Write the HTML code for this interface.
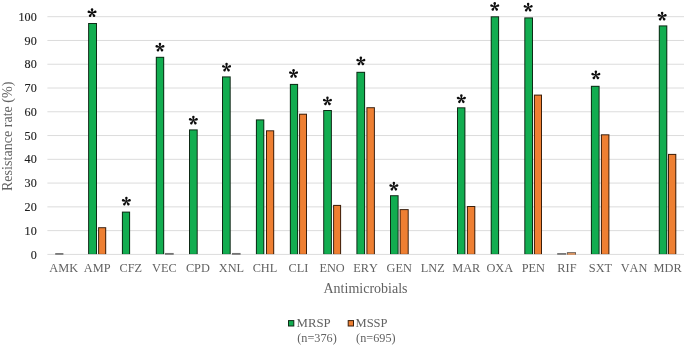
<!DOCTYPE html>
<html><head><meta charset="utf-8"><title>Resistance rate chart</title>
<style>
html,body{margin:0;padding:0;background:#fff;}
body{width:685px;height:349px;overflow:hidden;font-family:"Liberation Serif",serif;}
svg{display:block;will-change:transform;}
text{font-family:"Liberation Serif",serif;font-kerning:none;}
</style></head><body>
<svg width="685" height="349" viewBox="0 0 685 349">
<rect x="0" y="0" width="685" height="349" fill="#ffffff"/>

<g stroke="#dcdcdc" stroke-width="1" shape-rendering="auto">
<line x1="47.40" y1="254.40" x2="684" y2="254.40"/>
<line x1="47.40" y1="230.63" x2="684" y2="230.63"/>
<line x1="47.40" y1="206.86" x2="684" y2="206.86"/>
<line x1="47.40" y1="183.09" x2="684" y2="183.09"/>
<line x1="47.40" y1="159.32" x2="684" y2="159.32"/>
<line x1="47.40" y1="135.55" x2="684" y2="135.55"/>
<line x1="47.40" y1="111.78" x2="684" y2="111.78"/>
<line x1="47.40" y1="88.01" x2="684" y2="88.01"/>
<line x1="47.40" y1="64.24" x2="684" y2="64.24"/>
<line x1="47.40" y1="40.47" x2="684" y2="40.47"/>
<line x1="47.40" y1="16.70" x2="684" y2="16.70"/>
</g>
<text transform="translate(36.70,258.50) scale(0.92,1)" font-size="13.2" fill="#1e1e1e" stroke="#1e1e1e" stroke-width="0.15" text-anchor="end">0</text>
<text transform="translate(36.70,234.73) scale(0.92,1)" font-size="13.2" fill="#1e1e1e" stroke="#1e1e1e" stroke-width="0.15" text-anchor="end">10</text>
<text transform="translate(36.70,210.96) scale(0.92,1)" font-size="13.2" fill="#1e1e1e" stroke="#1e1e1e" stroke-width="0.15" text-anchor="end">20</text>
<text transform="translate(36.70,187.19) scale(0.92,1)" font-size="13.2" fill="#1e1e1e" stroke="#1e1e1e" stroke-width="0.15" text-anchor="end">30</text>
<text transform="translate(36.70,163.42) scale(0.92,1)" font-size="13.2" fill="#1e1e1e" stroke="#1e1e1e" stroke-width="0.15" text-anchor="end">40</text>
<text transform="translate(36.70,139.65) scale(0.92,1)" font-size="13.2" fill="#1e1e1e" stroke="#1e1e1e" stroke-width="0.15" text-anchor="end">50</text>
<text transform="translate(36.70,115.88) scale(0.92,1)" font-size="13.2" fill="#1e1e1e" stroke="#1e1e1e" stroke-width="0.15" text-anchor="end">60</text>
<text transform="translate(36.70,92.11) scale(0.92,1)" font-size="13.2" fill="#1e1e1e" stroke="#1e1e1e" stroke-width="0.15" text-anchor="end">70</text>
<text transform="translate(36.70,68.34) scale(0.92,1)" font-size="13.2" fill="#1e1e1e" stroke="#1e1e1e" stroke-width="0.15" text-anchor="end">80</text>
<text transform="translate(36.70,44.57) scale(0.92,1)" font-size="13.2" fill="#1e1e1e" stroke="#1e1e1e" stroke-width="0.15" text-anchor="end">90</text>
<text transform="translate(36.70,20.80) scale(0.92,1)" font-size="13.2" fill="#1e1e1e" stroke="#1e1e1e" stroke-width="0.15" text-anchor="end">100</text>
<rect x="88.10" y="23.00" width="8.90" height="231.10" fill="#0e2a16"/><rect x="89.10" y="24.00" width="6.90" height="229.90" fill="#12ad50"/>
<rect x="121.90" y="211.60" width="8.20" height="42.50" fill="#0e2a16"/><rect x="122.90" y="212.60" width="6.20" height="41.30" fill="#12ad50"/>
<rect x="155.80" y="56.80" width="8.40" height="197.30" fill="#0e2a16"/><rect x="156.80" y="57.80" width="6.40" height="196.10" fill="#12ad50"/>
<rect x="189.00" y="129.40" width="8.70" height="124.70" fill="#0e2a16"/><rect x="190.00" y="130.40" width="6.70" height="123.50" fill="#12ad50"/>
<rect x="222.00" y="76.40" width="8.70" height="177.70" fill="#0e2a16"/><rect x="223.00" y="77.40" width="6.70" height="176.50" fill="#12ad50"/>
<rect x="255.90" y="119.40" width="8.40" height="134.70" fill="#0e2a16"/><rect x="256.90" y="120.40" width="6.40" height="133.50" fill="#12ad50"/>
<rect x="289.85" y="83.90" width="8.25" height="170.20" fill="#0e2a16"/><rect x="290.85" y="84.90" width="6.25" height="169.00" fill="#12ad50"/>
<rect x="323.20" y="110.00" width="8.70" height="144.10" fill="#0e2a16"/><rect x="324.20" y="111.00" width="6.70" height="142.90" fill="#12ad50"/>
<rect x="356.40" y="71.80" width="8.70" height="182.30" fill="#0e2a16"/><rect x="357.40" y="72.80" width="6.70" height="181.10" fill="#12ad50"/>
<rect x="390.00" y="195.20" width="8.60" height="58.90" fill="#0e2a16"/><rect x="391.00" y="196.20" width="6.60" height="57.70" fill="#12ad50"/>
<rect x="457.00" y="107.30" width="8.40" height="146.80" fill="#0e2a16"/><rect x="458.00" y="108.30" width="6.40" height="145.60" fill="#12ad50"/>
<rect x="490.70" y="16.30" width="8.40" height="237.80" fill="#0e2a16"/><rect x="491.70" y="17.30" width="6.40" height="236.60" fill="#12ad50"/>
<rect x="524.30" y="17.40" width="8.70" height="236.70" fill="#0e2a16"/><rect x="525.30" y="18.40" width="6.70" height="235.50" fill="#12ad50"/>
<rect x="590.90" y="85.80" width="8.70" height="168.30" fill="#0e2a16"/><rect x="591.90" y="86.80" width="6.70" height="167.10" fill="#12ad50"/>
<rect x="658.80" y="25.40" width="8.50" height="228.70" fill="#0e2a16"/><rect x="659.80" y="26.40" width="6.50" height="227.50" fill="#12ad50"/>
<rect x="98.10" y="227.20" width="8.10" height="26.90" fill="#3a1f0c"/><rect x="99.10" y="228.20" width="6.10" height="25.70" fill="#ee7f32"/>
<rect x="266.00" y="130.30" width="8.20" height="123.80" fill="#3a1f0c"/><rect x="267.00" y="131.30" width="6.20" height="122.60" fill="#ee7f32"/>
<rect x="299.05" y="113.70" width="7.95" height="140.40" fill="#3a1f0c"/><rect x="300.05" y="114.70" width="5.95" height="139.20" fill="#ee7f32"/>
<rect x="333.10" y="204.90" width="8.00" height="49.20" fill="#3a1f0c"/><rect x="334.10" y="205.90" width="6.00" height="48.00" fill="#ee7f32"/>
<rect x="366.40" y="107.20" width="8.50" height="146.90" fill="#3a1f0c"/><rect x="367.40" y="108.20" width="6.50" height="145.70" fill="#ee7f32"/>
<rect x="399.60" y="209.10" width="9.10" height="45.00" fill="#3a1f0c"/><rect x="400.60" y="210.10" width="7.10" height="43.80" fill="#ee7f32"/>
<rect x="466.90" y="206.00" width="8.40" height="48.10" fill="#3a1f0c"/><rect x="467.90" y="207.00" width="6.40" height="46.90" fill="#ee7f32"/>
<rect x="533.90" y="94.60" width="8.10" height="159.50" fill="#3a1f0c"/><rect x="534.90" y="95.60" width="6.10" height="158.30" fill="#ee7f32"/>
<rect x="600.90" y="134.30" width="8.50" height="119.80" fill="#3a1f0c"/><rect x="601.90" y="135.30" width="6.50" height="118.60" fill="#ee7f32"/>
<rect x="668.00" y="153.90" width="8.30" height="100.20" fill="#3a1f0c"/><rect x="669.00" y="154.90" width="6.30" height="99.00" fill="#ee7f32"/>
<rect x="55.20" y="253.05" width="8.20" height="1.75" fill="#747474"/>
<rect x="165.00" y="252.95" width="8.70" height="1.85" fill="#747474"/>
<rect x="232.00" y="252.95" width="8.60" height="1.85" fill="#747474"/>
<rect x="557.20" y="253.05" width="9.00" height="1.75" fill="#747474"/>
<rect x="566.9" y="252.2" width="9.1" height="2.5" fill="#63564c"/><rect x="567.7" y="253.2" width="7.5" height="1.5" fill="#f2a268"/>
<text transform="translate(63.67,272.40) scale(0.935,1)" font-size="13.2" fill="#626262" stroke="#626262" stroke-width="0" text-anchor="middle">AMK</text>
<text transform="translate(97.22,272.40) scale(0.935,1)" font-size="13.2" fill="#626262" stroke="#626262" stroke-width="0" text-anchor="middle">AMP</text>
<text transform="translate(130.78,272.40) scale(0.935,1)" font-size="13.2" fill="#626262" stroke="#626262" stroke-width="0" text-anchor="middle">CFZ</text>
<text transform="translate(164.32,272.40) scale(0.935,1)" font-size="13.2" fill="#626262" stroke="#626262" stroke-width="0" text-anchor="middle">VEC</text>
<text transform="translate(197.88,272.40) scale(0.935,1)" font-size="13.2" fill="#626262" stroke="#626262" stroke-width="0" text-anchor="middle">CPD</text>
<text transform="translate(231.42,272.40) scale(0.935,1)" font-size="13.2" fill="#626262" stroke="#626262" stroke-width="0" text-anchor="middle">XNL</text>
<text transform="translate(264.97,272.40) scale(0.935,1)" font-size="13.2" fill="#626262" stroke="#626262" stroke-width="0" text-anchor="middle">CHL</text>
<text transform="translate(298.52,272.40) scale(0.935,1)" font-size="13.2" fill="#626262" stroke="#626262" stroke-width="0" text-anchor="middle">CLI</text>
<text transform="translate(332.07,272.40) scale(0.935,1)" font-size="13.2" fill="#626262" stroke="#626262" stroke-width="0" text-anchor="middle">ENO</text>
<text transform="translate(365.62,272.40) scale(0.935,1)" font-size="13.2" fill="#626262" stroke="#626262" stroke-width="0" text-anchor="middle">ERY</text>
<text transform="translate(399.17,272.40) scale(0.935,1)" font-size="13.2" fill="#626262" stroke="#626262" stroke-width="0" text-anchor="middle">GEN</text>
<text transform="translate(432.72,272.40) scale(0.935,1)" font-size="13.2" fill="#626262" stroke="#626262" stroke-width="0" text-anchor="middle">LNZ</text>
<text transform="translate(466.27,272.40) scale(0.935,1)" font-size="13.2" fill="#626262" stroke="#626262" stroke-width="0" text-anchor="middle">MAR</text>
<text transform="translate(499.82,272.40) scale(0.935,1)" font-size="13.2" fill="#626262" stroke="#626262" stroke-width="0" text-anchor="middle">OXA</text>
<text transform="translate(533.38,272.40) scale(0.935,1)" font-size="13.2" fill="#626262" stroke="#626262" stroke-width="0" text-anchor="middle">PEN</text>
<text transform="translate(566.92,272.40) scale(0.935,1)" font-size="13.2" fill="#626262" stroke="#626262" stroke-width="0" text-anchor="middle">RIF</text>
<text transform="translate(600.47,272.40) scale(0.935,1)" font-size="13.2" fill="#626262" stroke="#626262" stroke-width="0" text-anchor="middle">SXT</text>
<text transform="translate(634.02,272.40) scale(0.935,1)" font-size="13.2" fill="#626262" stroke="#626262" stroke-width="0" text-anchor="middle">VAN</text>
<text transform="translate(667.57,272.40) scale(0.935,1)" font-size="13.2" fill="#626262" stroke="#626262" stroke-width="0" text-anchor="middle">MDR</text>
<text transform="translate(365.50,293.00) scale(0.98,1)" font-size="14.3" fill="#626262" stroke="#626262" stroke-width="0" text-anchor="middle">Antimicrobials</text>
<text transform="translate(11.60,136.30) rotate(-90) scale(0.985,1)" font-size="14.3" fill="#626262" stroke="#626262" stroke-width="0" text-anchor="middle">Resistance rate (%)</text>
<rect x="288.5" y="320.6" width="5.3" height="5.4" fill="#12ad50" stroke="#0e2a16" stroke-width="1"/>
<rect x="348.2" y="320.6" width="5.3" height="5.4" fill="#ee7f32" stroke="#3a1f0c" stroke-width="1"/>
<text transform="translate(296.60,326.90) scale(0.985,1)" font-size="13" fill="#626262" stroke="#626262" stroke-width="0" text-anchor="start">MRSP</text>
<text transform="translate(297.20,341.70) scale(0.945,1)" font-size="13" fill="#626262" stroke="#626262" stroke-width="0" text-anchor="start">(n=376)</text>
<text transform="translate(355.50,326.90) scale(0.965,1)" font-size="13" fill="#626262" stroke="#626262" stroke-width="0" text-anchor="start">MSSP</text>
<text transform="translate(356.10,341.70) scale(0.94,1)" font-size="13" fill="#626262" stroke="#626262" stroke-width="0" text-anchor="start">(n=695)</text>
<g fill="#0c0c0c">
<path transform="translate(92.05,12.85) rotate(-90)" d="M0,-0.3 L3.45,-1.25 A1.25 1.25 0 0 1 3.45,1.25 L0,0.3 Z"/><path transform="translate(92.05,12.85) rotate(-18)" d="M0,-0.3 L3.45,-1.25 A1.25 1.25 0 0 1 3.45,1.25 L0,0.3 Z"/><path transform="translate(92.05,12.85) rotate(54)" d="M0,-0.3 L3.45,-1.25 A1.25 1.25 0 0 1 3.45,1.25 L0,0.3 Z"/><path transform="translate(92.05,12.85) rotate(126)" d="M0,-0.3 L3.45,-1.25 A1.25 1.25 0 0 1 3.45,1.25 L0,0.3 Z"/><path transform="translate(92.05,12.85) rotate(198)" d="M0,-0.3 L3.45,-1.25 A1.25 1.25 0 0 1 3.45,1.25 L0,0.3 Z"/><circle cx="92.05" cy="12.85" r="0.7"/>
<path transform="translate(126.35,201.35) rotate(-90)" d="M0,-0.3 L3.45,-1.25 A1.25 1.25 0 0 1 3.45,1.25 L0,0.3 Z"/><path transform="translate(126.35,201.35) rotate(-18)" d="M0,-0.3 L3.45,-1.25 A1.25 1.25 0 0 1 3.45,1.25 L0,0.3 Z"/><path transform="translate(126.35,201.35) rotate(54)" d="M0,-0.3 L3.45,-1.25 A1.25 1.25 0 0 1 3.45,1.25 L0,0.3 Z"/><path transform="translate(126.35,201.35) rotate(126)" d="M0,-0.3 L3.45,-1.25 A1.25 1.25 0 0 1 3.45,1.25 L0,0.3 Z"/><path transform="translate(126.35,201.35) rotate(198)" d="M0,-0.3 L3.45,-1.25 A1.25 1.25 0 0 1 3.45,1.25 L0,0.3 Z"/><circle cx="126.35" cy="201.35" r="0.7"/>
<path transform="translate(159.95,47.35) rotate(-90)" d="M0,-0.3 L3.45,-1.25 A1.25 1.25 0 0 1 3.45,1.25 L0,0.3 Z"/><path transform="translate(159.95,47.35) rotate(-18)" d="M0,-0.3 L3.45,-1.25 A1.25 1.25 0 0 1 3.45,1.25 L0,0.3 Z"/><path transform="translate(159.95,47.35) rotate(54)" d="M0,-0.3 L3.45,-1.25 A1.25 1.25 0 0 1 3.45,1.25 L0,0.3 Z"/><path transform="translate(159.95,47.35) rotate(126)" d="M0,-0.3 L3.45,-1.25 A1.25 1.25 0 0 1 3.45,1.25 L0,0.3 Z"/><path transform="translate(159.95,47.35) rotate(198)" d="M0,-0.3 L3.45,-1.25 A1.25 1.25 0 0 1 3.45,1.25 L0,0.3 Z"/><circle cx="159.95" cy="47.35" r="0.7"/>
<path transform="translate(193.35,120.35) rotate(-90)" d="M0,-0.3 L3.45,-1.25 A1.25 1.25 0 0 1 3.45,1.25 L0,0.3 Z"/><path transform="translate(193.35,120.35) rotate(-18)" d="M0,-0.3 L3.45,-1.25 A1.25 1.25 0 0 1 3.45,1.25 L0,0.3 Z"/><path transform="translate(193.35,120.35) rotate(54)" d="M0,-0.3 L3.45,-1.25 A1.25 1.25 0 0 1 3.45,1.25 L0,0.3 Z"/><path transform="translate(193.35,120.35) rotate(126)" d="M0,-0.3 L3.45,-1.25 A1.25 1.25 0 0 1 3.45,1.25 L0,0.3 Z"/><path transform="translate(193.35,120.35) rotate(198)" d="M0,-0.3 L3.45,-1.25 A1.25 1.25 0 0 1 3.45,1.25 L0,0.3 Z"/><circle cx="193.35" cy="120.35" r="0.7"/>
<path transform="translate(226.55,67.45) rotate(-90)" d="M0,-0.3 L3.45,-1.25 A1.25 1.25 0 0 1 3.45,1.25 L0,0.3 Z"/><path transform="translate(226.55,67.45) rotate(-18)" d="M0,-0.3 L3.45,-1.25 A1.25 1.25 0 0 1 3.45,1.25 L0,0.3 Z"/><path transform="translate(226.55,67.45) rotate(54)" d="M0,-0.3 L3.45,-1.25 A1.25 1.25 0 0 1 3.45,1.25 L0,0.3 Z"/><path transform="translate(226.55,67.45) rotate(126)" d="M0,-0.3 L3.45,-1.25 A1.25 1.25 0 0 1 3.45,1.25 L0,0.3 Z"/><path transform="translate(226.55,67.45) rotate(198)" d="M0,-0.3 L3.45,-1.25 A1.25 1.25 0 0 1 3.45,1.25 L0,0.3 Z"/><circle cx="226.55" cy="67.45" r="0.7"/>
<path transform="translate(293.55,73.65) rotate(-90)" d="M0,-0.3 L3.45,-1.25 A1.25 1.25 0 0 1 3.45,1.25 L0,0.3 Z"/><path transform="translate(293.55,73.65) rotate(-18)" d="M0,-0.3 L3.45,-1.25 A1.25 1.25 0 0 1 3.45,1.25 L0,0.3 Z"/><path transform="translate(293.55,73.65) rotate(54)" d="M0,-0.3 L3.45,-1.25 A1.25 1.25 0 0 1 3.45,1.25 L0,0.3 Z"/><path transform="translate(293.55,73.65) rotate(126)" d="M0,-0.3 L3.45,-1.25 A1.25 1.25 0 0 1 3.45,1.25 L0,0.3 Z"/><path transform="translate(293.55,73.65) rotate(198)" d="M0,-0.3 L3.45,-1.25 A1.25 1.25 0 0 1 3.45,1.25 L0,0.3 Z"/><circle cx="293.55" cy="73.65" r="0.7"/>
<path transform="translate(327.45,101.15) rotate(-90)" d="M0,-0.3 L3.45,-1.25 A1.25 1.25 0 0 1 3.45,1.25 L0,0.3 Z"/><path transform="translate(327.45,101.15) rotate(-18)" d="M0,-0.3 L3.45,-1.25 A1.25 1.25 0 0 1 3.45,1.25 L0,0.3 Z"/><path transform="translate(327.45,101.15) rotate(54)" d="M0,-0.3 L3.45,-1.25 A1.25 1.25 0 0 1 3.45,1.25 L0,0.3 Z"/><path transform="translate(327.45,101.15) rotate(126)" d="M0,-0.3 L3.45,-1.25 A1.25 1.25 0 0 1 3.45,1.25 L0,0.3 Z"/><path transform="translate(327.45,101.15) rotate(198)" d="M0,-0.3 L3.45,-1.25 A1.25 1.25 0 0 1 3.45,1.25 L0,0.3 Z"/><circle cx="327.45" cy="101.15" r="0.7"/>
<path transform="translate(360.85,61.15) rotate(-90)" d="M0,-0.3 L3.45,-1.25 A1.25 1.25 0 0 1 3.45,1.25 L0,0.3 Z"/><path transform="translate(360.85,61.15) rotate(-18)" d="M0,-0.3 L3.45,-1.25 A1.25 1.25 0 0 1 3.45,1.25 L0,0.3 Z"/><path transform="translate(360.85,61.15) rotate(54)" d="M0,-0.3 L3.45,-1.25 A1.25 1.25 0 0 1 3.45,1.25 L0,0.3 Z"/><path transform="translate(360.85,61.15) rotate(126)" d="M0,-0.3 L3.45,-1.25 A1.25 1.25 0 0 1 3.45,1.25 L0,0.3 Z"/><path transform="translate(360.85,61.15) rotate(198)" d="M0,-0.3 L3.45,-1.25 A1.25 1.25 0 0 1 3.45,1.25 L0,0.3 Z"/><circle cx="360.85" cy="61.15" r="0.7"/>
<path transform="translate(393.85,186.55) rotate(-90)" d="M0,-0.3 L3.45,-1.25 A1.25 1.25 0 0 1 3.45,1.25 L0,0.3 Z"/><path transform="translate(393.85,186.55) rotate(-18)" d="M0,-0.3 L3.45,-1.25 A1.25 1.25 0 0 1 3.45,1.25 L0,0.3 Z"/><path transform="translate(393.85,186.55) rotate(54)" d="M0,-0.3 L3.45,-1.25 A1.25 1.25 0 0 1 3.45,1.25 L0,0.3 Z"/><path transform="translate(393.85,186.55) rotate(126)" d="M0,-0.3 L3.45,-1.25 A1.25 1.25 0 0 1 3.45,1.25 L0,0.3 Z"/><path transform="translate(393.85,186.55) rotate(198)" d="M0,-0.3 L3.45,-1.25 A1.25 1.25 0 0 1 3.45,1.25 L0,0.3 Z"/><circle cx="393.85" cy="186.55" r="0.7"/>
<path transform="translate(461.35,99.05) rotate(-90)" d="M0,-0.3 L3.45,-1.25 A1.25 1.25 0 0 1 3.45,1.25 L0,0.3 Z"/><path transform="translate(461.35,99.05) rotate(-18)" d="M0,-0.3 L3.45,-1.25 A1.25 1.25 0 0 1 3.45,1.25 L0,0.3 Z"/><path transform="translate(461.35,99.05) rotate(54)" d="M0,-0.3 L3.45,-1.25 A1.25 1.25 0 0 1 3.45,1.25 L0,0.3 Z"/><path transform="translate(461.35,99.05) rotate(126)" d="M0,-0.3 L3.45,-1.25 A1.25 1.25 0 0 1 3.45,1.25 L0,0.3 Z"/><path transform="translate(461.35,99.05) rotate(198)" d="M0,-0.3 L3.45,-1.25 A1.25 1.25 0 0 1 3.45,1.25 L0,0.3 Z"/><circle cx="461.35" cy="99.05" r="0.7"/>
<path transform="translate(494.75,6.65) rotate(-90)" d="M0,-0.3 L3.45,-1.25 A1.25 1.25 0 0 1 3.45,1.25 L0,0.3 Z"/><path transform="translate(494.75,6.65) rotate(-18)" d="M0,-0.3 L3.45,-1.25 A1.25 1.25 0 0 1 3.45,1.25 L0,0.3 Z"/><path transform="translate(494.75,6.65) rotate(54)" d="M0,-0.3 L3.45,-1.25 A1.25 1.25 0 0 1 3.45,1.25 L0,0.3 Z"/><path transform="translate(494.75,6.65) rotate(126)" d="M0,-0.3 L3.45,-1.25 A1.25 1.25 0 0 1 3.45,1.25 L0,0.3 Z"/><path transform="translate(494.75,6.65) rotate(198)" d="M0,-0.3 L3.45,-1.25 A1.25 1.25 0 0 1 3.45,1.25 L0,0.3 Z"/><circle cx="494.75" cy="6.65" r="0.7"/>
<path transform="translate(528.15,7.45) rotate(-90)" d="M0,-0.3 L3.45,-1.25 A1.25 1.25 0 0 1 3.45,1.25 L0,0.3 Z"/><path transform="translate(528.15,7.45) rotate(-18)" d="M0,-0.3 L3.45,-1.25 A1.25 1.25 0 0 1 3.45,1.25 L0,0.3 Z"/><path transform="translate(528.15,7.45) rotate(54)" d="M0,-0.3 L3.45,-1.25 A1.25 1.25 0 0 1 3.45,1.25 L0,0.3 Z"/><path transform="translate(528.15,7.45) rotate(126)" d="M0,-0.3 L3.45,-1.25 A1.25 1.25 0 0 1 3.45,1.25 L0,0.3 Z"/><path transform="translate(528.15,7.45) rotate(198)" d="M0,-0.3 L3.45,-1.25 A1.25 1.25 0 0 1 3.45,1.25 L0,0.3 Z"/><circle cx="528.15" cy="7.45" r="0.7"/>
<path transform="translate(595.85,75.15) rotate(-90)" d="M0,-0.3 L3.45,-1.25 A1.25 1.25 0 0 1 3.45,1.25 L0,0.3 Z"/><path transform="translate(595.85,75.15) rotate(-18)" d="M0,-0.3 L3.45,-1.25 A1.25 1.25 0 0 1 3.45,1.25 L0,0.3 Z"/><path transform="translate(595.85,75.15) rotate(54)" d="M0,-0.3 L3.45,-1.25 A1.25 1.25 0 0 1 3.45,1.25 L0,0.3 Z"/><path transform="translate(595.85,75.15) rotate(126)" d="M0,-0.3 L3.45,-1.25 A1.25 1.25 0 0 1 3.45,1.25 L0,0.3 Z"/><path transform="translate(595.85,75.15) rotate(198)" d="M0,-0.3 L3.45,-1.25 A1.25 1.25 0 0 1 3.45,1.25 L0,0.3 Z"/><circle cx="595.85" cy="75.15" r="0.7"/>
<path transform="translate(662.15,16.35) rotate(-90)" d="M0,-0.3 L3.45,-1.25 A1.25 1.25 0 0 1 3.45,1.25 L0,0.3 Z"/><path transform="translate(662.15,16.35) rotate(-18)" d="M0,-0.3 L3.45,-1.25 A1.25 1.25 0 0 1 3.45,1.25 L0,0.3 Z"/><path transform="translate(662.15,16.35) rotate(54)" d="M0,-0.3 L3.45,-1.25 A1.25 1.25 0 0 1 3.45,1.25 L0,0.3 Z"/><path transform="translate(662.15,16.35) rotate(126)" d="M0,-0.3 L3.45,-1.25 A1.25 1.25 0 0 1 3.45,1.25 L0,0.3 Z"/><path transform="translate(662.15,16.35) rotate(198)" d="M0,-0.3 L3.45,-1.25 A1.25 1.25 0 0 1 3.45,1.25 L0,0.3 Z"/><circle cx="662.15" cy="16.35" r="0.7"/>
</g>
</svg></body></html>
